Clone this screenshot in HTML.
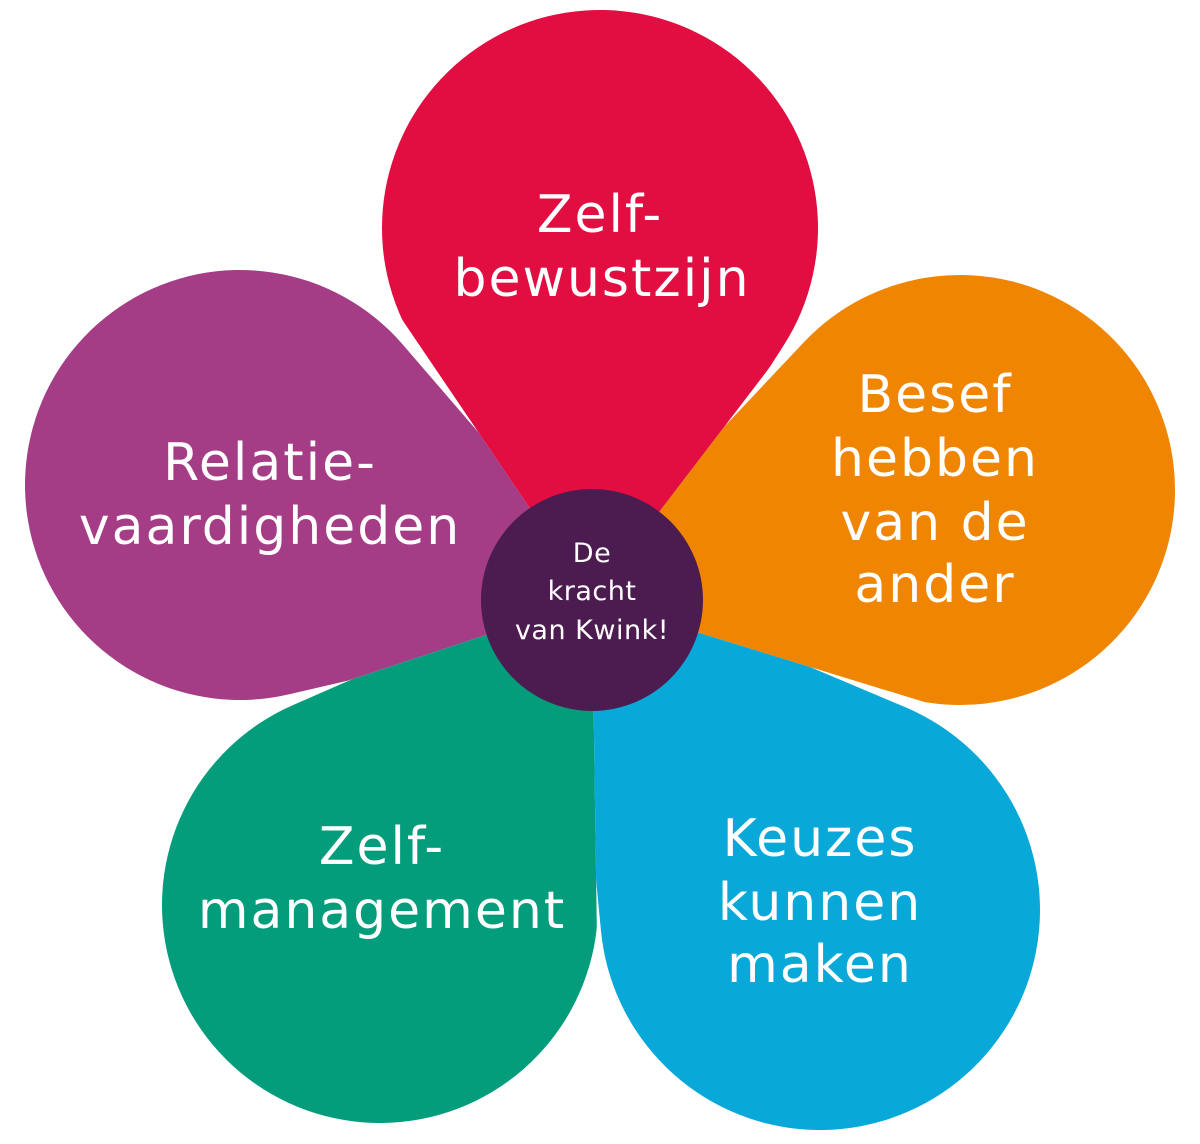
<!DOCTYPE html>
<html><head><meta charset="utf-8"><style>
html,body{margin:0;padding:0;background:#fff;width:1200px;height:1144px;overflow:hidden}
svg{display:block}
text{font-family:"DejaVu Sans","Liberation Sans",sans-serif;fill:#fff;text-anchor:middle}
</style></head><body>
<svg id="s" width="1200" height="1144" viewBox="0 0 1200 1144">
<defs id="defs"></defs>
<g id="petals"></g>
<circle cx="592" cy="600" r="111" fill="#4c1c50"/>
<g font-size="52" letter-spacing="2">
<text x="600" y="232">Zelf-</text>
<text x="602" y="296">bewustzijn</text>
<text x="935" y="412">Besef</text>
<text x="935" y="476">hebben</text>
<text x="935" y="540">van de</text>
<text x="935" y="602">ander</text>
<text x="270" y="480">Relatie-</text>
<text x="270" y="544">vaardigheden</text>
<text x="382" y="864">Zelf-</text>
<text x="382" y="928">management</text>
<text x="820" y="856">Keuzes</text>
<text x="820" y="920">kunnen</text>
<text x="820" y="982">maken</text>
</g>
<g font-size="27" letter-spacing="0.5">
<text x="592" y="562">De</text>
<text x="592" y="600">kracht</text>
<text x="592" y="639">van Kwink!</text>
</g>
</svg>
<script>
var P=[592,600];
var rays={rp:[-149,-220],ro:[168,-220],ob:[228,70],pg:[-212,70],gb:[8,544]};
function far(v){return [P[0]+v[0]*8,P[1]+v[1]*8];}
var petals=[
 [600,228,218,"#e20d40","rp","ro"],
 [960,490,215,"#ef8500","ro","ob"],
 [240,485,215,"#a53c86","pg","rp"],
 [380,905,218,"#049d7c","gb","pg"],
 [820,910,220,"#08a8d8","ob","gb"]
];
var g=document.getElementById('petals'),defs=document.getElementById('defs'),h='',dh='';
petals.forEach(function(p,i){
 var cx=p[0],cy=p[1],r=p[2];
 var dx=P[0]-cx,dy=P[1]-cy,d0=Math.sqrt(dx*dx+dy*dy);
 var Q=[P[0]+dx/d0*45,P[1]+dy/d0*45];
 dx=Q[0]-cx;dy=Q[1]-cy;var d=Math.sqrt(dx*dx+dy*dy);
 var a=Math.atan2(dy,dx),b=Math.acos(r/d);
 var t1=[cx+r*Math.cos(a+b),cy+r*Math.sin(a+b)],t2=[cx+r*Math.cos(a-b),cy+r*Math.sin(a-b)];
 var f1=far(rays[p[4]]),f2=far(rays[p[5]]);
 var mid=[P[0]-(P[0]-cx)*8,P[1]-(P[1]-cy)*8];
 dh+='<clipPath id="c'+i+'"><polygon points="'+P.join(',')+' '+f1.join(',')+' '+mid.join(',')+' '+f2.join(',')+'"/></clipPath>';
 h+='<path clip-path="url(#c'+i+')" fill="'+p[3]+'" d="M'+Q[0]+' '+Q[1]+' L'+t1[0]+' '+t1[1]+' A'+r+' '+r+' 0 1 1 '+t2[0]+' '+t2[1]+' Z"/>';
});
defs.innerHTML=dh;
g.innerHTML=h;
</script>
</body></html>
